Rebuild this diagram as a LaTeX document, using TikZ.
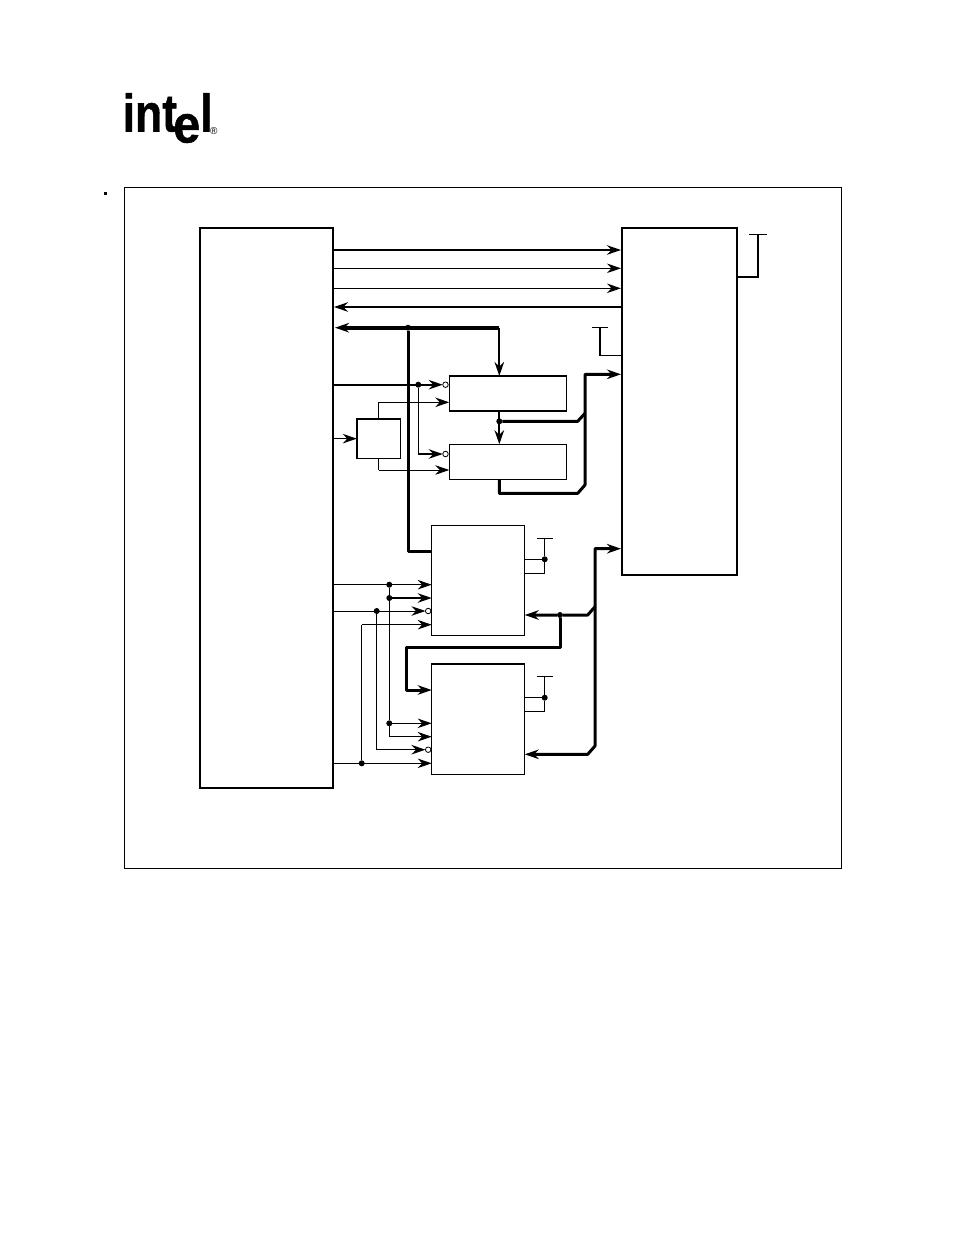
\documentclass[tikz,border=0pt]{standalone}
\usepackage{fontspec}
\setmainfont{Liberation Sans}
\newfontfamily\logofont[BoldFeatures={FakeBold=1}]{Liberation Sans}
\usetikzlibrary{arrows.meta}
\begin{document}
\begin{tikzpicture}[x=1pt,y=-1pt,
  >={Stealth[length=14pt,width=9.5pt,inset=4.5pt]},
  blockbox/.style={draw,fill=white,anchor=north west,line width=1.2pt,outer sep=0pt,inner sep=0pt},
  sig/.style={line width=1pt},
  ctl/.style={line width=1.4pt},
  busline/.style={line width=3pt,line join=round},
  jdot/.style={circle,fill=black,draw=none,minimum size=6pt,inner sep=0pt,outer sep=0pt},
  bubble/.style={circle,fill=white,draw=black,line width=0.8pt,minimum size=5.5pt,inner sep=0pt,outer sep=0pt}]
\useasboundingbox (0,0) rectangle (954,1235);
% logo
\node[anchor=base west,font=\logofont\bfseries,inner sep=0pt,xscale=0.84] (logoint) at (122.5,131.5) {\fontsize{53}{53}\selectfont int};
\node[anchor=base west,font=\logofont\bfseries,inner sep=0pt,xscale=0.92] (logoe) at (173,142.5) {\fontsize{53}{53}\selectfont e};
\node[anchor=base west,font=\logofont\bfseries,inner sep=0pt,xscale=0.84] (logol) at (200,131.5) {\fontsize{53}{53}\selectfont l};
\node[anchor=base west,inner sep=0pt] (logor) at (210,134) {\fontsize{10}{10}\selectfont ®};
\node[fill=black,minimum size=2.6pt,inner sep=0pt] (mark) at (105.7,193.3) {};
% frame
\node[blockbox,line width=0.9pt,minimum width=717pt,minimum height=681pt] (frame) at (124.3,187.3) {};
% blocks
\node[blockbox,line width=2.4pt,minimum width=133pt,minimum height=560pt] (cpu) at (200,228) {};
\node[blockbox,minimum width=115pt,minimum height=347pt] (mem) at (622,228) {};
\draw[line width=2.4pt] (mem.north east) -- (mem.north west) -- (mem.south west) -- (mem.south east);
\node[blockbox,minimum width=117.5pt,minimum height=35pt] (latcha) at (449.3,376) {};
\node[blockbox,minimum width=117.5pt,minimum height=35pt] (latchb) at (449.3,444.3) {};
\node[blockbox,line width=1.5pt,minimum width=43.5pt,minimum height=39.3pt] (dec) at (356.8,419) {};
\node[blockbox,minimum width=93pt,minimum height=110.4pt] (rama) at (431.7,525.3) {};
\node[blockbox,minimum width=93pt,minimum height=110.3pt] (ramb) at (431.7,664) {};
% control lines to memory
\foreach \c/\w in {250/ctl, 268.3/sig, 288.3/ctl}{
  \draw[->,\w,shorten >=1pt] (cpu.east |- 0,\c) -- (mem.west |- 0,\c);}
\draw[->,ctl,line width=1.8pt,shorten >=1pt] (mem.west |- 0,307) -- (cpu.east |- 0,307);
% address bus
\node[jdot] (jbus) at (408,327.7) {};
\coordinate (bustee) at (499.3,327.7);
\draw[->,busline,line width=3.6pt,shorten >=2pt] (bustee) -- (cpu.east |- jbus);
\draw[busline] (jbus) -- (408,551) -- (rama.west |- 0,551);
\draw[->,line width=2.2pt] (bustee) -- (latcha.north -| bustee);
% latch enable
\node[bubble] (bubla) at (445.5,384.7) {};
\node[bubble] (bublb) at (445.5,454) {};
\node[jdot] (jle) at (418.3,384.7) {};
\draw[->,ctl,line width=1.8pt] (cpu.east |- jle) -- (bubla);
\draw[->,ctl] (jle) |- (bublb);
% decoder
\coordinate (dectop) at (dec.north |- 0,402.3);
\coordinate (decbot) at (dec.south |- 0,470);
\draw[->,sig] (cpu.east |- dec.west) -- (dec.west);
\draw[sig] (dec.north) -- (dectop);
\draw[->,ctl] (dectop) -- (latcha.west |- dectop);
\draw[ctl] (dec.south) -- (decbot);
\draw[->,sig] (decbot) -- (latchb.west |- decbot);
% latch outputs
\node[jdot] (jlat) at (499.3,421.3) {};
\draw[->,line width=2.2pt] (latcha.south -| jlat) -- (latchb.north -| jlat);
\coordinate (bustop) at (585,374.3);
\coordinate (busbot) at (585,485);
\draw[busline] (jlat) -- (577.7,421.3) -- (585,413.3);
\draw[->,busline,shorten >=1pt] (latchb.south -| jlat) -- (499.3,493.3) -- (577.7,493.3) -- (busbot) -- (bustop) -- (mem.west |- bustop);
% memory pull-ups
\draw[line width=1.2pt] (591.7,327.3) -- (608,327.3);
\draw[line width=1.2pt] (600,327.3) -- (600,355.3) -- (mem.west |- 0,355.3);
\draw[line width=1.2pt] (749.3,234.3) -- (766.7,234.3);
\draw[line width=2pt] (758,234.3) -- (758,276.7) -- (mem.east |- 0,276.7);
% ram pull-ups
\foreach \b/\t in {rama/538.3, ramb/676.7}{
  \draw[line width=1.2pt] (536.7,\t) -- (553,\t);
  \node[jdot] (j\b) at (544.7,\t+21) {};
  \draw[ctl] (544.7,\t) -- (j\b);
  \draw[sig] (\b.east |- j\b) -- (j\b);
  \draw[ctl] (j\b) -- (544.7,\t+35);
  \draw[sig] (544.7,\t+35) -- (\b.east |- 0,\t+35);}
% data bus to rams
\coordinate (dtop) at (595,548.7);
\coordinate (rbin) at (ramb.east |- 0,754.3);
\node[jdot] (jdat) at (560,615) {};
\draw[<->,busline,shorten >=1pt] (rbin) -- (587.7,754.3) -- (595,746) -- (dtop) -- (mem.west |- dtop);
\draw[->,busline] (595,606.7) -- (587.7,615) -- (jdat) -- (rama.east |- jdat);
\draw[->,busline] (jdat) -- (560,647) -- (406.7,647) -- (406.7,690) -- (ramb.west |- 0,690);
% shared control lines
\node[jdot] (jaa) at (389.3,584.7) {};
\node[jdot] (jab) at (389.3,598) {};
\node[jdot] (jac) at (389.3,723.3) {};
\node[jdot] (jbb) at (376.7,611) {};
\node[jdot] (jcc) at (361.7,763.3) {};
\node[bubble] (bubra) at (428.2,611) {};
\node[bubble] (bubrb) at (428.2,749.7) {};
\draw[->,sig] (cpu.east |- jaa) -- (rama.west |- jaa);
\draw[->,ctl,line width=1.8pt] (jab) -- (rama.west |- jab);
\draw[->,sig] (cpu.east |- jbb) -- (bubra);
\draw[sig] (jaa) -- (jac);
\draw[->,sig] (jac) -- (ramb.west |- jac);
\draw[->,sig] (jac) -- (389.3,736.7) -- (ramb.west |- 0,736.7);
\draw[sig] (jbb) -- (376.7,749.7);
\draw[->,ctl] (376.7,749.7) -- (bubrb);
\draw[ctl] (jcc) -- (361.7,624.7);
\draw[->,sig] (361.7,624.7) -- (rama.west |- 0,624.7);
\draw[->,sig] (cpu.east |- jcc) -- (ramb.west |- jcc);
\end{tikzpicture}
\end{document}
